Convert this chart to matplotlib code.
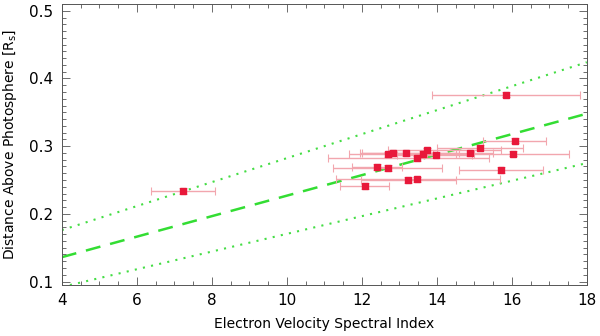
import numpy as np
import matplotlib
matplotlib.use('Agg')
import matplotlib.pyplot as plt
from matplotlib.ticker import MultipleLocator

# electron spectral index and height of each source
index = [7.23, 12.08, 12.41, 12.70, 12.69, 12.84, 13.19, 13.23, 13.48, 13.48,
         13.64, 13.73, 13.99, 14.88, 15.15, 15.71, 15.84, 16.04, 16.08]
height = [0.234, 0.241, 0.269, 0.268, 0.288, 0.290, 0.290, 0.250, 0.251, 0.282,
          0.289, 0.294, 0.287, 0.290, 0.298, 0.265, 0.376, 0.289, 0.308]
index_lo = [6.37, 11.43, 11.74, 11.23, 11.65, 11.95, 12.00, 11.97, 11.30, 11.10,
            12.75, 12.70, 12.95, 13.70, 14.00, 14.60, 13.87, 14.50, 15.23]
index_hi = [8.09, 12.73, 13.06, 14.14, 13.90, 13.75, 14.60, 14.52, 15.69, 15.40,
            15.00, 15.70, 14.95, 15.49, 16.30, 16.83, 17.81, 17.53, 16.92]
height_err = 0.004

# fit line and its bounds at x = 4 and x = 18
fit_x = [4, 18]
fit_mid = [0.136, 0.348]
fit_up = [0.176, 0.424]
fit_lo = [0.092, 0.275]

fig = plt.figure(figsize=(6, 3.36), dpi=100)
ax = fig.add_axes([0.103, 0.152, 0.875, 0.836])

x = np.array(index)
xerr = np.array([x - np.array(index_lo), np.array(index_hi) - x])
ax.errorbar(x, height, xerr=xerr, yerr=height_err, fmt='none', ecolor='#f2a6ae',
            elinewidth=1, capsize=3, capthick=0.8, zorder=2)
ax.plot(x, height, 's', color='#e8183a', markersize=4, zorder=3)

ax.plot(fit_x, fit_mid, color='#33dd33', lw=1.8, dashes=(6, 4), zorder=1)
ax.plot(fit_x, fit_up, color='#44dd44', lw=1.5, linestyle=(0, (1, 3)), zorder=1)
ax.plot(fit_x, fit_lo, color='#44dd44', lw=1.5, linestyle=(0, (1, 3)), zorder=1)

ax.set_xlim(4, 18)
ax.set_ylim(0.095, 0.51)
ax.xaxis.set_major_locator(MultipleLocator(2))
ax.xaxis.set_minor_locator(MultipleLocator(0.5))
ax.yaxis.set_major_locator(MultipleLocator(0.1))
ax.yaxis.set_minor_locator(MultipleLocator(0.01))
ax.tick_params(which='both', direction='in', top=True, right=True, color='#555555', width=0.6)
ax.tick_params(which='major', length=6, labelsize=11, pad=6)
ax.tick_params(which='minor', length=3)
for s in ax.spines.values():
    s.set_linewidth(0.7)
    s.set_color('#555555')

ax.set_xlabel('Electron Velocity Spectral Index', fontsize=10, labelpad=6)
ax.set_ylabel(r'Distance Above Photosphere [R$_\mathregular{s}$]', fontsize=10, labelpad=7)

fig.savefig('out.png', dpi=100)
